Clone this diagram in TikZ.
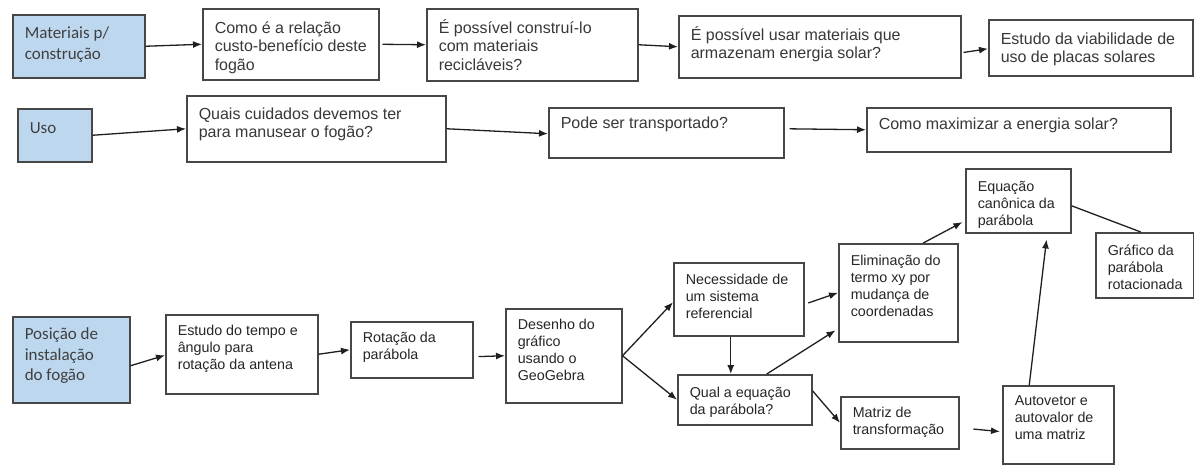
\documentclass[tikz,border=0pt]{standalone}
\usepackage{fontspec}
\setmainfont{Liberation Sans}
\newfontfamily\calibfont{Carlito}
\usetikzlibrary{arrows.meta}
\definecolor{boxblue}{RGB}{189,215,238}
\tikzset{
  box/.style={draw=black!72, line width=1.5pt, fill=white, inner sep=0pt, anchor=north west, text=black!78},
  topbox/.style={box, font={\fontsize{16}{18.5}\selectfont\def\capgap{-1.5pt}}},
  botbox/.style={box, text=black!85, font={\fontsize{14.3}{17}\selectfont\def\capgap{-1.7pt}}},
  bluebox/.style={box, fill=boxblue, text=black!75, font={\calibfont\fontsize{17}{20.5}\selectfont\def\capgap{-3.4pt}}},
  conn/.style={draw=black!88, line width=1.3pt, -{Latex[length=9pt,width=7pt]}},
  plainline/.style={draw=black!88, line width=1.3pt}
}
% style, name, x1, y1, x2, y2, top pad, text
\newcommand\bx[8]{%
  \node[#1] (#2) at (#3,-#4) {\begin{minipage}[c][\dimexpr#6pt-#4pt\relax][t]{\dimexpr#5pt-#3pt\relax}%
  \parindent=0pt\leftskip=12pt\rightskip=0pt plus 1fil\vspace*{\dimexpr#7pt+\capgap\relax}\strut#8\end{minipage}};}
\begin{document}
\begin{tikzpicture}[x=1pt,y=1pt]
\useasboundingbox (0,0) rectangle (1194,-464);
% row 1
\bx{bluebox}{mat}{12}{14}{144}{77}{13}{Materiais p/\\construção}
\bx{topbox}{como}{202}{8}{378}{79}{13}{Como é a relação\\custo-benefício deste\\fogão}
\bx{topbox}{pos}{426}{8}{637}{80}{12}{É possível construí-lo\\com materiais\\recicláveis?}
\bx{topbox}{usar}{678}{15}{960}{77}{12}{É possível usar materiais que\\armazenam energia solar?}
\bx{topbox}{est}{988}{19}{1192}{75}{13}{Estudo da viabilidade de\\uso de placas solares}
% row 2
\bx{bluebox}{uso}{17}{108}{91}{161}{14}{Uso}
\bx{topbox}{quais}{186}{95}{445}{161}{12}{Quais cuidados devemos ter\\para manusear o fogão?}
\bx{topbox}{pode}{548}{107}{783}{157}{9}{Pode ser transportado?}
\bx{topbox}{max}{866}{107}{1170}{151}{10}{Como maximizar a energia solar?}
% bottom
\bx{bluebox}{posi}{12}{316}{129}{402}{12}{Posição de\\instalação\\do fogão}
\bx{botbox}{tempo}{165}{314}{317}{393}{11}{Estudo do tempo e\\ângulo para\\rotação da antena}
\bx{botbox}{rot}{350}{321}{472}{377}{11}{Rotação da\\parábola}
\bx{botbox}{des}{505}{308}{621}{402}{11}{Desenho do\\gráfico\\usando o\\GeoGebra}
\bx{botbox}{nec}{673}{262}{803}{335}{12}{Necessidade de\\um sistema\\referencial}
\bx{botbox}{qual}{677}{374}{811}{424}{13}{Qual a equação\\da parábola?}
\bx{botbox}{elim}{838}{243}{957}{341}{12}{Eliminação do\\termo xy por\\mudança de\\coordenadas}
\bx{botbox}{equ}{965}{168}{1070}{232}{13}{Equação\\canônica da\\parábola}
\bx{botbox}{gra}{1095}{232}{1193}{297}{13}{Gráfico da\\parábola\\rotacionada}
\bx{botbox}{mtx}{840}{396}{958}{448}{11}{Matriz de\\transformação}
\bx{botbox}{auto}{1002}{385}{1113}{463}{10}{Autovetor e\\autovalor de\\uma matriz}
% connectors row 1
\draw[conn] (mat.east) -- (como.west);
\draw[conn, shorten <=3pt] (como.east) -- (pos.west);
\draw[conn] (pos.east) -- (usar.west);
\draw[conn, shorten <=2pt] ([yshift=-6pt]usar.east) -- ([yshift=-1pt]est.west);
% row 2
\draw[conn] (uso.east) -- (quais.west);
\draw[conn] (quais.east) -- ([yshift=-1pt]pode.west);
\draw[conn, shorten <=5pt] ([yshift=4pt]pode.east) -- (max.west);
% bottom
\draw[conn] ([yshift=-6pt]posi.east) -- ([yshift=-1pt]tempo.west);
\draw[conn] (tempo.east) -- (rot.west);
\draw[conn, shorten <=5pt] ([yshift=-7pt]rot.east) -- (des.west);
\draw[conn] (des.east) -- ([yshift=-3pt]nec.west);
\draw[conn] (des.east) -- (qual.west);
\draw[conn] ([xshift=-8pt]nec.south) -- ([xshift=-14pt]qual.north);
\draw[conn, shorten >=3pt] ([xshift=22pt]qual.north) -- ([yshift=-36pt]elim.west);
\draw[conn, shorten <=4pt] ([yshift=-5pt]nec.east) -- (elim.west);
\draw[conn, shorten >=3pt] ([xshift=25pt]elim.north) -- ([yshift=-20pt]equ.west);
\draw[plainline] ([yshift=-5pt]equ.east) -- ([xshift=-4pt]gra.north);
\draw[conn] ([yshift=9pt]qual.east) -- (mtx.west);
\draw[conn, shorten <=14pt, shorten >=2pt] ([yshift=-5pt]mtx.east) -- ([yshift=-7pt]auto.west);
\draw[conn, shorten >=6pt] ([xshift=-29pt]auto.north) -- ([xshift=29pt]equ.south);
\end{tikzpicture}
\end{document}
